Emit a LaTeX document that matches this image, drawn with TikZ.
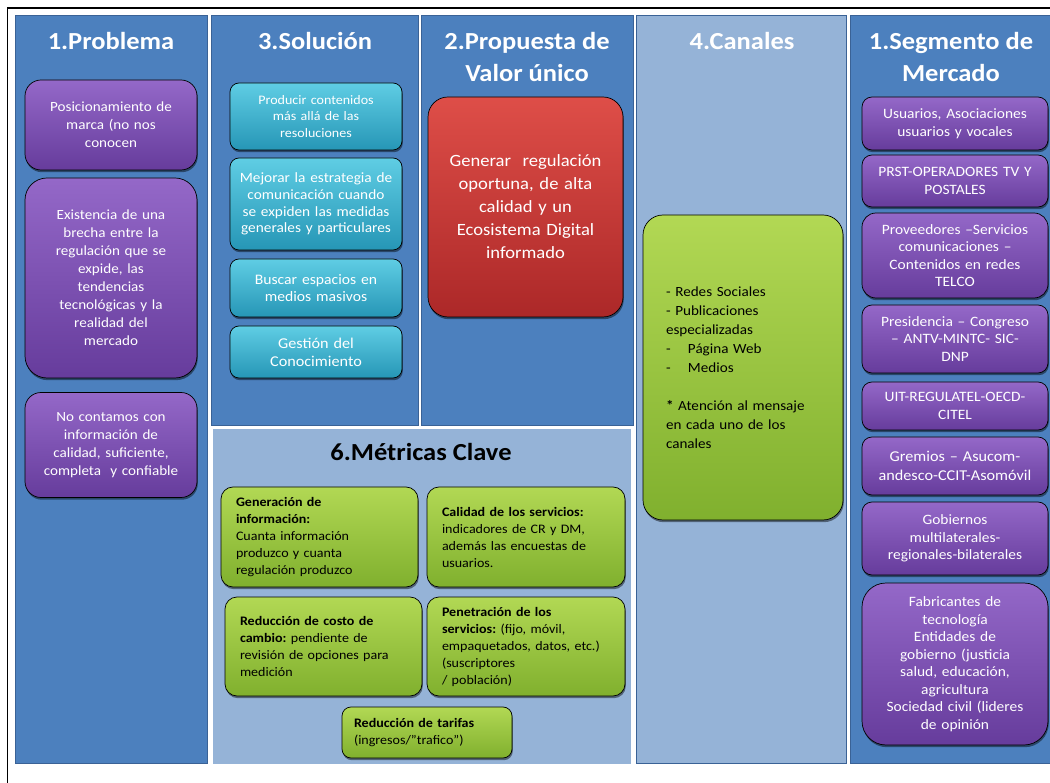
\documentclass[tikz,border=0pt]{standalone}
\usepackage{fontspec}
\setmainfont{Carlito}[FakeStretch=1.08]
\usepackage{xcolor}
\usepackage{tikz}
\usetikzlibrary{positioning,shadows}
\frenchspacing

\definecolor{darkcol}{RGB}{76,128,190}
\definecolor{lightcol}{RGB}{149,179,215}
\definecolor{edgecol}{RGB}{58,98,150}

\begin{document}
\begin{tikzpicture}[x=1pt, y=-1pt,
        panel/.style={draw=edgecol, line width=0.6pt},
        head/.style={font=\fontsize{24.5}{32}\selectfont\bfseries, text=white, align=center},
        box/.style={rounded corners=12pt, line width=0.7pt, inner sep=3pt,
            drop shadow={shadow xshift=0.8pt, shadow yshift=-2.2pt, opacity=0.45, fill=black}},
        probbox/.style={box, draw={RGB,255:red,80;green,45;blue,120}, top color={rgb,255:red,148;green,104;blue,200}, bottom color={rgb,255:red,102;green,60;blue,156},
            text=white, align=center, text width=#1-6pt, minimum width=#1, font=\fontsize{14}{18}\selectfont},
        probbox/.default=172pt,
        solbox/.style={box, rounded corners=9pt, draw={RGB,255:red,30;green,110;blue,140}, top color={rgb,255:red,95;green,205;blue,228}, bottom color={rgb,255:red,38;green,150;blue,182},
            text=white, align=center, text width=166pt, minimum width=172pt, font=\fontsize{13}{16.5}\selectfont},
        valbox/.style={box, rounded corners=20pt, draw={RGB,255:red,130;green,30;blue,30}, top color={rgb,255:red,222;green,78;blue,72}, bottom color={rgb,255:red,172;green,40;blue,40},
            text=white, align=center, text width=186pt, minimum width=195pt, font=\fontsize{17.2}{23}\selectfont},
        canbox/.style={box, rounded corners=20pt, draw={RGB,255:red,95;green,135;blue,35}, top color={rgb,255:red,178;green,216;blue,84}, bottom color={rgb,255:red,128;green,176;blue,46},
            text=black, align=left, text width=154pt, inner xsep=22pt, minimum width=200pt, font=\fontsize{14}{19}\selectfont},
        metbox/.style={box, draw={RGB,255:red,95;green,135;blue,35}, top color={rgb,255:red,178;green,216;blue,84}, bottom color={rgb,255:red,128;green,176;blue,46},
            text=black, align=left, text width=#1-28pt, inner xsep=15pt, minimum width=#1, font=\fontsize{13}{17}\selectfont},
        metbox/.default=195pt,
        segbox/.style={probbox=186pt, rounded corners=10pt, font=\fontsize{14.3}{17.5}\selectfont}
    ]
    \useasboundingbox (0,0) rectangle (1050,783);

    % marco exterior
    \draw[line width=1.6pt] (7.5,8) rectangle (1080,800);

    % columnas
    \draw[panel, fill=darkcol] (15,15) rectangle (207,763);
    \draw[panel, fill=darkcol] (211,15) rectangle (418,425);
    \draw[panel, fill=darkcol] (421,15) rectangle (633,425);
    \draw[panel, fill=lightcol] (636,15) rectangle (846,763);
    \draw[panel, fill=darkcol] (850,15) rectangle (1060,763);
    \draw[line width=2.5pt, draw=white, fill=lightcol] (212,428) rectangle (632,765);

    % titulos
    \node[head] (hprob) at (111,41) {1.Problema};
    \node[head] (hsol) at (315,41) {3.Solución};
    \node[head] (hval) at (527,57) {2.Propuesta de\\Valor único};
    \node[head] (hcan) at (742,41) {4.Canales};
    \node[head] (hseg) at (951,57) {1.Segmento de\\Mercado};
    \node[head, text=black] (hmet) at (421,452) {6.Métricas Clave};

    % problema
    \node[probbox, minimum height=90pt, rounded corners=16pt] (prob1) at (111,125) {Posicionamiento de\\marca (no nos\\conocen};
    \node[probbox, minimum height=200pt, rounded corners=22pt] (prob2) at (111,278) {Existencia de una\\brecha entre la\\regulación que se\\expide, las\\tendencias\\tecnológicas y la\\realidad del\\mercado};
    \node[probbox, minimum height=105pt, rounded corners=16pt] (prob3) at (111,445) {No contamos con\\información de\\calidad, suficiente,\\completa\ \ y confiable};

    % solucion
    \node[solbox, minimum height=67pt] (sol1) at (316,116.5) {Producir contenidos\\más allá de las\\resoluciones};
    \node[solbox, minimum height=92pt, font=\fontsize{14.2}{16.6}\selectfont] (sol2) at (316,204) {Mejorar la estrategia de\\comunicación cuando\\se expiden las medidas\\generales y particulares};
    \node[solbox, minimum height=58pt, font=\fontsize{14.5}{17.5}\selectfont] (sol3) at (316,288) {Buscar espacios en\\medios masivos};
    \node[solbox, minimum height=52pt, font=\fontsize{15}{18}\selectfont] (sol4) at (316,352) {Gestión del\\Conocimiento};

    % propuesta de valor
    \node[valbox, minimum height=220pt] (valor) at (525.5,207) {Generar\ \ regulación\\oportuna, de alta\\calidad y un\\Ecosistema Digital\\informado};

    % canales
    \node[canbox, minimum height=305pt] (canal) at (743,367.5) {- Redes Sociales\\- Publicaciones\\especializadas\\\makebox[22pt][l]{-}Página Web\\\makebox[22pt][l]{-}Medios\\[19pt]\textbf{*} Atención al mensaje\\en cada uno de los\\canales};

    % segmento de mercado
    \node[segbox, minimum height=53pt] (seg1) at (955,123.5) {Usuarios, Asociaciones\\usuarios y vocales};
    \node[segbox, minimum height=52pt] (seg2) at (955,181) {PRST-OPERADORES TV Y\\POSTALES};
    \node[segbox, minimum height=85pt, rounded corners=14pt] (seg3) at (955,255.5) {Proveedores –Servicios\\comunicaciones –\\Contenidos en redes\\TELCO};
    \node[segbox, minimum height=68pt] (seg4) at (955,339) {Presidencia – Congreso\\– ANTV-MINTC- SIC-\\DNP};
    \node[segbox, minimum height=48pt] (seg5) at (955,406) {UIT-REGULATEL-OECD-\\CITEL};
    \node[segbox, minimum height=58pt, font=\fontsize{15}{19}\selectfont] (seg6) at (955,466) {Gremios – Asucom-\\andesco-CCIT-Asomóvil};
    \node[segbox, minimum height=73pt] (seg7) at (955,538.5) {Gobiernos\\multilaterales-\\regionales-bilaterales};
    \node[segbox, minimum height=162pt, rounded corners=24pt] (seg8) at (955,664) {Fabricantes de\\tecnología\\Entidades de\\gobierno (justicia\\salud, educación,\\agricultura\\Sociedad civil (lideres\\de opinión};

    % metricas clave
    \node[metbox, minimum height=100pt] (met1) at (319.5,537) {\textbf{Generación de}\\\textbf{información:}\\Cuanta información\\produzco y cuanta\\regulación produzco};
    \node[metbox=196pt, minimum height=100pt] (met2) at (526,537) {\textbf{Calidad de los servicios:}\\indicadores de CR y DM,\\además las encuestas de\\usuarios.};
    \node[metbox, minimum height=99pt] (met3) at (323.5,646.5) {\textbf{Reducción de costo de}\\\textbf{cambio:} pendiente de\\revisión de opciones para\\medición};
    \node[metbox=196pt, minimum height=99pt] (met4) at (526,646.5) {\textbf{Penetración de los}\\\textbf{servicios:} (fijo, móvil,\\empaquetados, datos, etc.)\\(suscriptores\\/ población)};
    \node[metbox=170pt, inner xsep=12pt, text width=146pt, minimum height=51pt, rounded corners=9pt] (met5) at (427,732.5) {\textbf{Reducción de tarifas}\\(ingresos/”trafico”)};

\end{tikzpicture}
\end{document}
